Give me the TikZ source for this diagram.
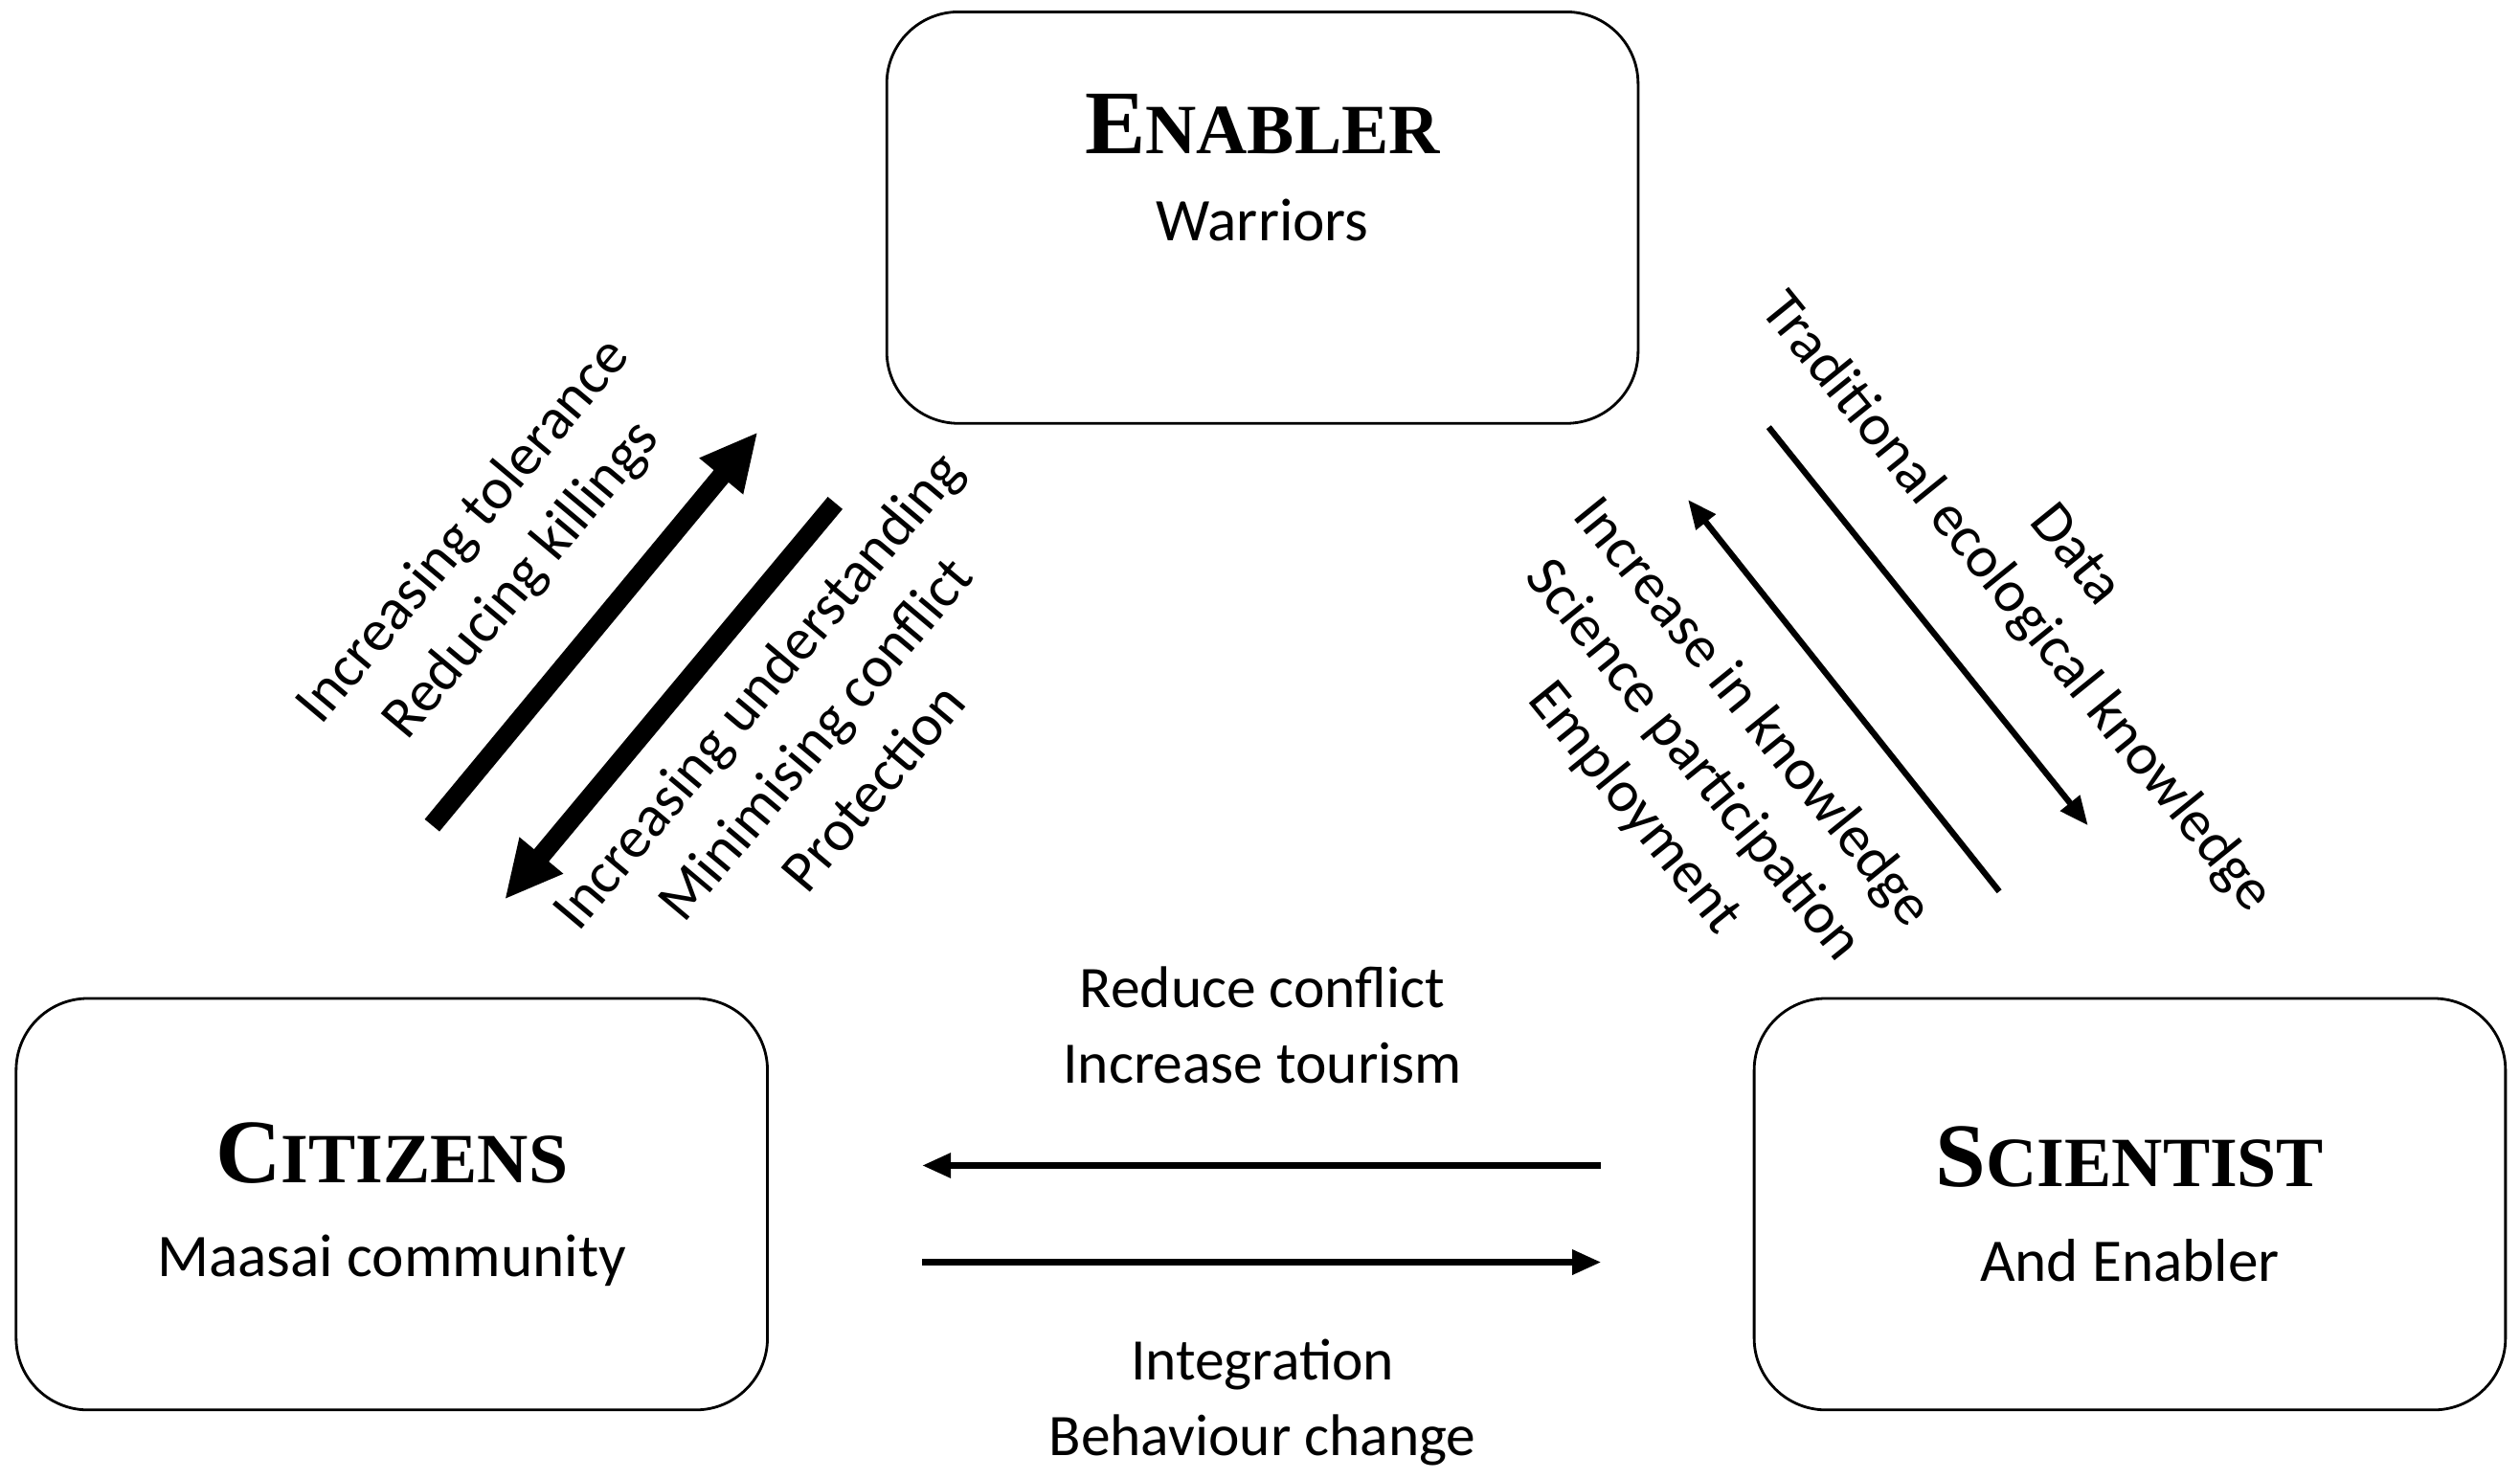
\documentclass[tikz,border=0pt]{standalone}
\usepackage{fontspec}
\setmainfont{Carlito}
\newfontfamily\titlefont{Liberation Serif}
\usetikzlibrary{positioning}
\usetikzlibrary{arrows.meta}
\newcommand{\smcap}[2]{{\titlefont\bfseries\fontsize{27}{30}\selectfont #1\fontsize{21}{24}\selectfont #2}}

\begin{document}
\begin{tikzpicture}[
                x=0.01684cm, y=-0.01684cm,
                role/.style={draw, thick, rounded corners=0.75cm, minimum width=7.85cm, minimum height=4.3cm, align=center, font=\fontsize{18}{24}\selectfont},
                lbl/.style={align=center, font=\fontsize{17.5}{22.5}\selectfont},
                bold/.style={line width=0.2cm, -{Triangle[length=0.6cm, width=0.55cm]}},
                thin/.style={line width=1.8pt, -{Triangle[length=0.3cm, width=0.25cm]}}
            ]
            \useasboundingbox (0,0) rectangle (1563,917);

            % Define nodes
            \node[role] (enabler) at (783,135) {\smcap{E}{NABLER}\\[2pt] Warriors\\[6pt]};
            \node[role] (citizens) at (243,747) {\smcap{C}{ITIZENS}\\[4pt] Maasai community};
            \node[role] (scientist) at (1321,747) {\smcap{S}{CIENTIST}\\[4pt] And Enabler};

            % Arrow ends
            \coordinate (a1) at (268,512); \coordinate (a2) at (470,268);
            \coordinate (b1) at (518,312); \coordinate (b2) at (313,558);
            \coordinate (c1) at (1240,553); \coordinate (c2) at (1047,310);
            \coordinate (d1) at (1097,265); \coordinate (d2) at (1295,512);
            \coordinate (e1) at (993,723); \coordinate (e2) at (572,723);
            \coordinate (f1) at (572,783); \coordinate (f2) at (993,783);

            % Arrows connecting boxes
            \draw[bold] (a1) -- (a2);
            \draw[bold] (b1) -- (b2);
            \draw[thin] (c1) -- (c2);
            \draw[thin] (d1) -- (d2);
            \draw[thin] (e1) -- (e2);
            \draw[thin] (f1) -- (f2);

            % Labels
            \node[lbl, rotate=50] (tol) at (306,345) {Increasing tolerance\\Reducing killings};
            \node[lbl, rotate=50] (und) at (505,458) {Increasing understanding\\Minimising conflict\\Protection};
            \node[lbl, rotate=-51] (data) at (1268,360) {Data\\Traditional ecological knowledge};
            \node[lbl, rotate=-51] (know) at (1050,472) {Increase in knowledge\\Science participation\\Employment};
            \node[lbl] (red) at (783,636) {Reduce conflict\\Increase tourism};
            \node[lbl] (int) at (783,870) {Integration\\Behaviour change};
        \end{tikzpicture}
\end{document}
